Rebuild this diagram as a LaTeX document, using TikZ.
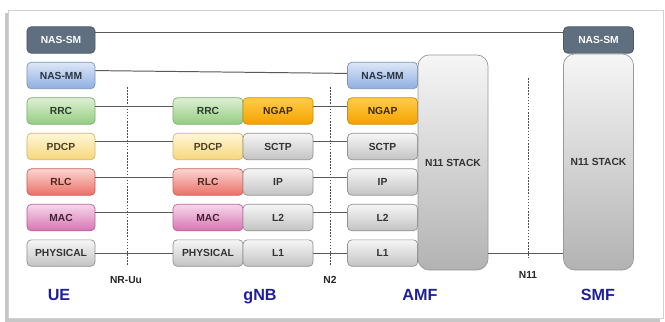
\documentclass[tikz,border=0pt]{standalone}
\usepackage{fontspec}
\setmainfont{Liberation Sans}

\definecolor{smfill}{HTML}{5F6F80}
\definecolor{mmtop}{HTML}{DDE7F8}
\definecolor{mmbot}{HTML}{8FAEE0}
\definecolor{rrctop}{HTML}{DEF0D4}
\definecolor{rrcbot}{HTML}{94CC80}
\definecolor{pdcptop}{HTML}{FFF7D8}
\definecolor{pdcpbot}{HTML}{F7D67C}
\definecolor{rlctop}{HTML}{FBD6D1}
\definecolor{rlcbot}{HTML}{EB6F67}
\definecolor{mactop}{HTML}{F6D6EB}
\definecolor{macbot}{HTML}{D775B2}
\definecolor{greytop}{HTML}{F6F6F6}
\definecolor{greybot}{HTML}{C3C3C3}
\definecolor{ngaptop}{HTML}{FFCD48}
\definecolor{ngapbot}{HTML}{F4A200}
\definecolor{entityblue}{HTML}{1F1F9A}

\tikzstyle{layer} = [draw, rounded corners=3pt, minimum width=1.75cm,
    minimum height=0.66cm, inner sep=0pt, line width=0.5pt,
    font=\fontsize{7.3}{8}\selectfont\bfseries]
\tikzstyle{ue} = [minimum width=1.7cm]
\tikzstyle{nassm} = [layer, fill=smfill, draw=smfill!80!black, text=white]
\tikzstyle{nasmm} = [layer, top color=mmtop, bottom color=mmbot, draw=mmbot!85!black, text=mmbot!30!black]
\tikzstyle{rrc} = [layer, top color=rrctop, bottom color=rrcbot, draw=rrcbot!85!black, text=rrcbot!30!black]
\tikzstyle{pdcp} = [layer, top color=pdcptop, bottom color=pdcpbot, draw=pdcpbot!85!black, text=pdcpbot!30!black]
\tikzstyle{rlc} = [layer, top color=rlctop, bottom color=rlcbot, draw=rlcbot!85!black, text=rlcbot!35!black]
\tikzstyle{mac} = [layer, top color=mactop, bottom color=macbot, draw=macbot!85!black, text=macbot!30!black]
\tikzstyle{grey} = [layer, top color=greytop, bottom color=greybot, draw=greybot!75!black, text=black!80]
\tikzstyle{ngap} = [layer, top color=ngaptop, bottom color=ngapbot, draw=ngapbot!85!black, text=ngapbot!25!black]
\tikzstyle{stack} = [draw=black!40, rounded corners=8pt, minimum width=1.75cm,
    top color=greytop, bottom color=black!30, line width=0.5pt, text=black!80,
    font=\fontsize{7.3}{8}\selectfont\bfseries]
\tikzstyle{link} = [draw=black!65, line width=0.7pt]
\tikzstyle{iface} = [draw=black!70, line width=0.6pt, dash pattern=on 1.1pt off 1.1pt]
\tikzstyle{tag} = [anchor=base, inner sep=0pt, font=\fontsize{7.3}{8}\selectfont\bfseries, text=black!85]
\tikzstyle{entity} = [anchor=base, inner sep=0pt, font=\fontsize{11.5}{12}\selectfont\bfseries, text=entityblue]

\begin{document}
\begin{tikzpicture}[x=0.025cm, y=-0.025cm, node distance=0.8875cm]
    % panel
    \useasboundingbox (0,0) rectangle (665,322);
    \fill [black!22] (5,13) rectangle (660,322);
    \draw [black!18, fill=white] (8,10) rectangle (663,318);

    % UE
    \node [nassm, ue] at (61,40) (uesm) {NAS-SM};
    \node [nasmm, ue, below of=uesm] (uemm) {NAS-MM};
    \node [rrc, ue, below of=uemm] (uerrc) {RRC};
    \node [pdcp, ue, below of=uerrc] (uepdcp) {PDCP};
    \node [rlc, ue, below of=uepdcp] (uerlc) {RLC};
    \node [mac, ue, below of=uerlc] (uemac) {MAC};
    \node [grey, ue, below of=uemac] (uephy) {PHYSICAL};

    % gNB
    \node [rrc, right of=uerrc, node distance=3.675cm] (gnbrrc) {RRC};
    \node [pdcp, below of=gnbrrc] (gnbpdcp) {PDCP};
    \node [rlc, below of=gnbpdcp] (gnbrlc) {RLC};
    \node [mac, below of=gnbrlc] (gnbmac) {MAC};
    \node [grey, below of=gnbmac] (gnbphy) {PHYSICAL};
    \node [ngap, right of=gnbrrc, node distance=1.75cm] (gnbngap) {NGAP};
    \node [grey, below of=gnbngap] (gnbsctp) {SCTP};
    \node [grey, below of=gnbsctp] (gnbip) {IP};
    \node [grey, below of=gnbip] (gnbl2) {L2};
    \node [grey, below of=gnbl2] (gnbl1) {L1};

    % AMF
    \node [ngap, right of=gnbngap, node distance=2.6125cm] (amfngap) {NGAP};
    \node [nasmm, above of=amfngap] (amfmm) {NAS-MM};
    \node [grey, below of=amfngap] (amfsctp) {SCTP};
    \node [grey, below of=amfsctp] (amfip) {IP};
    \node [grey, below of=amfip] (amfl2) {L2};
    \node [grey, below of=amfl2] (amfl1) {L1};
    \node [stack, minimum height=5.375cm] at (453,162.5) (amfstack) {N11 STACK};

    % SMF
    \node [nassm] at (598.5,40) (smfsm) {NAS-SM};
    \node [stack, minimum height=5.4cm] at (598.5,162) (smfstack) {N11 STACK};

    % interfaces
    \coordinate (uutop) at (127,87);
    \coordinate (uubot) at (127,266);
    \coordinate (ntwotop) at (330,87);
    \coordinate (ntwobot) at (330,266);
    \coordinate (nelevtop) at (528,78);
    \coordinate (nelevbot) at (528,258);
    \draw [iface] (uutop) -- (uubot);
    \draw [iface] (ntwotop) -- (ntwobot);
    \draw [iface] (nelevtop) -- (nelevbot);
    \node [tag] at (126,283) (uu) {NR-Uu};
    \node [tag] at (330,283) (ntwo) {N2};
    \node [tag] at (528,278) (nelev) {N11};

    % peer links
    \draw [link] ([yshift=5pt]uesm.east) -- ([yshift=5pt]smfsm.west);
    \draw [link] ([yshift=3.5pt]uemm.east) -- ([yshift=1.5pt]amfmm.west);
    \draw [link] ([yshift=3.5pt]uerrc.east) -- ([yshift=3.5pt]gnbrrc.west);
    \draw [link] ([yshift=3.5pt]uepdcp.east) -- ([yshift=3.5pt]gnbpdcp.west);
    \draw [link] ([yshift=3.5pt]uerlc.east) -- ([yshift=3.5pt]gnbrlc.west);
    \draw [link] ([yshift=3.5pt]uemac.east) -- ([yshift=3.5pt]gnbmac.west);
    \draw [link] (uephy) -- (gnbphy);
    \draw [link] ([yshift=3.5pt]gnbngap.east) -- ([yshift=3.5pt]amfngap.west);
    \draw [link] ([yshift=3.5pt]gnbsctp.east) -- ([yshift=3.5pt]amfsctp.west);
    \draw [link] ([yshift=3.5pt]gnbip.east) -- ([yshift=3.5pt]amfip.west);
    \draw [link] ([yshift=3.5pt]gnbl2.east) -- ([yshift=3.5pt]amfl2.west);
    \draw [link] (gnbl1) -- (amfl1);
    \draw [link] (amfstack.east |- amfl1) -- (smfstack.west |- amfl1);

    % entities
    \node [entity] at (59,300) (ue) {UE};
    \node [entity] at (260,300) (gnb) {gNB};
    \node [entity] at (420,300) (amf) {AMF};
    \node [entity] at (598,300) (smf) {SMF};
\end{tikzpicture}
\end{document}
